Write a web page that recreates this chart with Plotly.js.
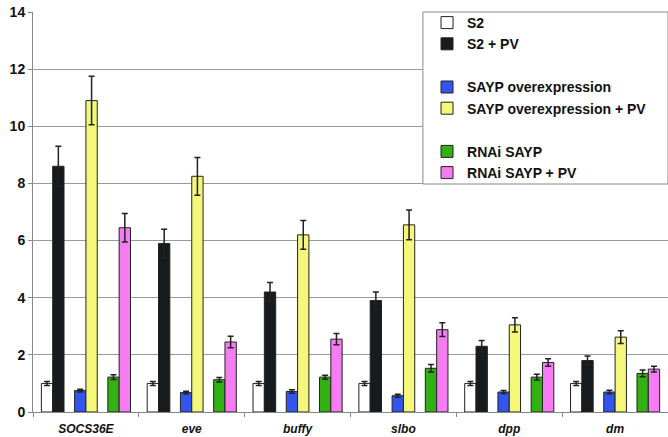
<!DOCTYPE html>
<html><head><meta charset="utf-8">
<script src="https://cdn.plot.ly/plotly-3.0.1.min.js"></script>
<style>html,body{margin:0;padding:0;background:#fff}#chart{width:668px;height:437px}</style>
</head><body><div id="chart"></div>
<script>
const genes = ["SOCS36E", "eve", "buffy", "slbo", "dpp", "dm"];
const seriesNames = ["S2", "S2 + PV", "SAYP overexpression", "SAYP overexpression + PV", "RNAi SAYP", "RNAi SAYP + PV"];
const s2 = [1.0, 1.0, 1.0, 1.0, 1.0, 1.0];
const s2Err = [0.07, 0.07, 0.07, 0.07, 0.07, 0.07];
const s2pv = [8.6, 5.9, 4.2, 3.9, 2.3, 1.8];
const s2pvErr = [0.7, 0.5, 0.33, 0.3, 0.2, 0.16];
const sayp = [0.75, 0.68, 0.72, 0.57, 0.7, 0.7];
const saypErr = [0.05, 0.05, 0.06, 0.05, 0.05, 0.06];
const sayppv = [10.9, 8.25, 6.2, 6.55, 3.05, 2.62];
const sayppvErr = [0.85, 0.66, 0.5, 0.52, 0.25, 0.22];
const rnai = [1.22, 1.13, 1.22, 1.53, 1.22, 1.35];
const rnaiErr = [0.08, 0.08, 0.07, 0.13, 0.1, 0.12];
const rnaipv = [6.45, 2.45, 2.55, 2.88, 1.73, 1.5];
const rnaipvErr = [0.5, 0.2, 0.2, 0.24, 0.13, 0.1];

const values = [s2, s2pv, sayp, sayppv, rnai, rnaipv];
const errs = [s2Err, s2pvErr, saypErr, sayppvErr, rnaiErr, rnaipvErr];
const colors = ["#ffffff", "#171b1d", "#3355ee", "#f4f77a", "#33b012", "#f67cf2"];
const offsets = [-0.421, -0.314, -0.107, 0.0, 0.207, 0.314];
const groups = ["a", "a", "b", "b", "c", "c"];

const traces = values.map((v, i) => ({
  type: "bar",
  name: seriesNames[i],
  x: genes,
  y: v,
  offset: offsets[i],
  width: 0.107,
  legendgroup: groups[i],
  marker: {color: colors[i], line: {color: "#222", width: 1}},
  error_y: {type: "data", array: errs[i], visible: true, color: "#222", thickness: 1.5, width: 3}
}));

const layout = {
  width: 668, height: 437,
  margin: {l: 33, r: 0, t: 12, b: 25},
  paper_bgcolor: "#fff", plot_bgcolor: "#fff",
  barmode: "overlay",
  font: {family: "Liberation Sans, Arial, sans-serif", color: "#111"},
  xaxis: {
    type: "category",
    tickson: "boundaries",
    ticks: "outside", ticklen: 4, tickcolor: "#888",
    showline: true, linecolor: "#888", linewidth: 1,
    tickfont: {size: 12, weight: "bold", style: "italic", color: "#111"},
    ticklabelstandoff: 6,
    showgrid: false
  },
  yaxis: {
    range: [0, 14], dtick: 2,
    showgrid: true, gridcolor: "#9a9a9a", gridwidth: 1,
    showline: true, linecolor: "#888", linewidth: 1,
    ticks: "outside", ticklen: 4, tickcolor: "#888",
    tickfont: {size: 14, weight: "bold", color: "#111"},
    zeroline: false
  },
  shapes: [{
    type: "rect", xref: "paper", yref: "paper",
    x0: 0.614, x1: 1.0, y0: 0.57, y1: 1.0,
    layer: "above",
    fillcolor: "#fff",
    line: {color: "#888", width: 1}
  }],
  legend: {
    x: 0.6205, y: 1.0125, xanchor: "left", yanchor: "top",
    bgcolor: "rgba(0,0,0,0)", borderwidth: 0,
    traceorder: "grouped", tracegroupgap: 22,
    font: {size: 14, weight: "bold", color: "#111"}
  },
  showlegend: true
};

Plotly.newPlot("chart", traces, layout, {displayModeBar: false, staticPlot: true});
</script></body></html>
